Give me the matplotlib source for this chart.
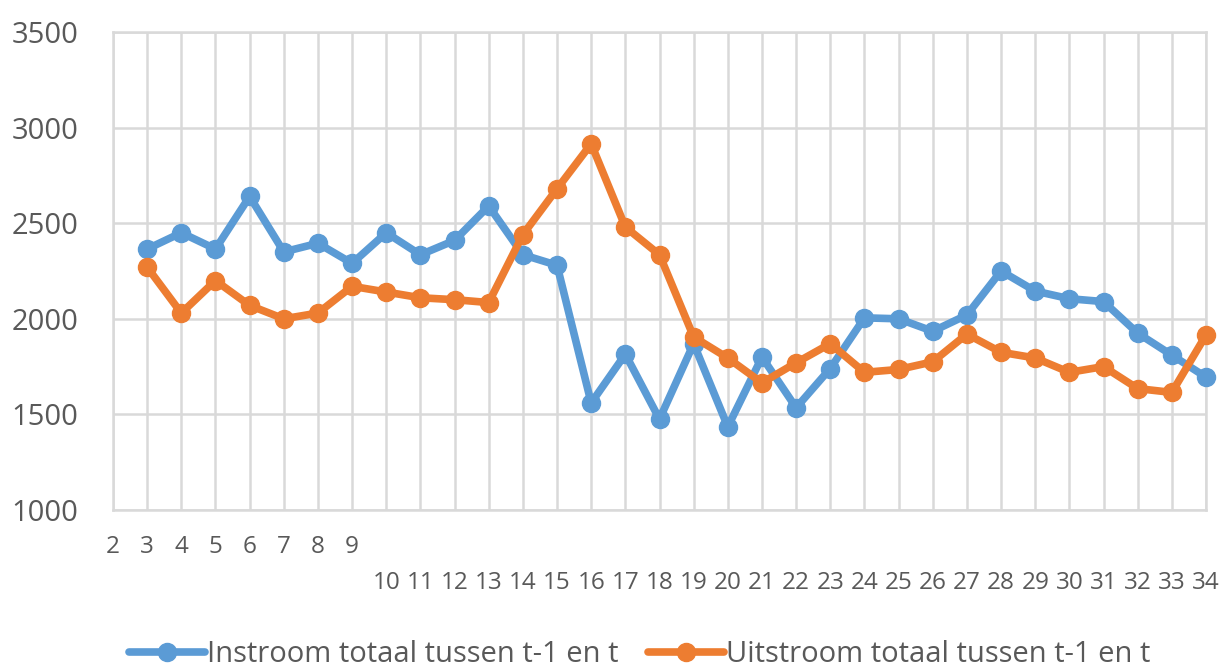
import matplotlib
matplotlib.use("Agg")
import matplotlib.pyplot as plt

plt.rcParams['font.family'] = ['Open Sans', 'DejaVu Sans']

weeks = list(range(2, 35))
instroom_weeks = list(range(3, 35))
instroom = [2365, 2450, 2365, 2640, 2350, 2395, 2290, 2450, 2335, 2410, 2590,
            2335, 2280, 1560, 1815, 1475, 1870, 1435, 1800, 1535, 1740, 2005,
            2000, 1935, 2020, 2250, 2145, 2105, 2090, 1925, 1810, 1695]
uitstroom = [2270, 2030, 2200, 2070, 2000, 2030, 2170, 2140, 2110, 2100, 2085,
             2440, 2680, 2915, 2480, 2335, 1905, 1795, 1665, 1770, 1870, 1720,
             1735, 1775, 1920, 1825, 1795, 1720, 1750, 1635, 1615, 1915]
tick_labels = [str(w) if w < 10 else "\n" + str(w) for w in weeks]
yticks = [1000, 1500, 2000, 2500, 3000, 3500]
series_names = ["Instroom totaal tussen t-1 en t", "Uitstroom totaal tussen t-1 en t"]

blue = "#5B9BD5"
orange = "#ED7D31"
grid_c = "#D9D9D9"
text_c = "#595959"

fig = plt.figure(figsize=(12.27, 6.70), dpi=100)
ax = fig.add_axes([113/1227, 1 - 510/670, (1206-113)/1227, (510-32)/670])

for vals, col, name in [(instroom, blue, series_names[0]),
                        (uitstroom, orange, series_names[1])]:
    ax.plot(instroom_weeks, vals, color=col, lw=5.5, marker='o', ms=13,
            label=name, solid_joinstyle='round', solid_capstyle='round',
            clip_on=False, zorder=3)

ax.set_xlim(2, 34)
ax.set_ylim(1000, 3500)
ax.set_xticks(weeks)
ax.set_xticklabels(tick_labels)
ax.set_yticks(yticks)
ax.set_yticklabels([str(v) for v in yticks])
ax.grid(True, color=grid_c, lw=1.8, zorder=0)
for s in ax.spines.values():
    s.set_color(grid_c)
    s.set_linewidth(1.8)
    s.set_zorder(0)
ax.tick_params(axis='both', length=0, colors=text_c)
ax.tick_params(axis='x', labelsize=17.5, pad=18)
ax.tick_params(axis='y', labelsize=21, pad=25)
for t in ax.get_xticklabels():
    t.set_linespacing(1.65)

leg = fig.legend(loc='center', bbox_to_anchor=(640/1227, 1 - 655/670),
                 ncol=2, frameon=False, fontsize=21, handlelength=2.6,
                 handletextpad=0.08, columnspacing=1.0, borderpad=0)
for t in leg.get_texts():
    t.set_color(text_c)

fig.savefig("out.png", dpi=100, facecolor='white')
